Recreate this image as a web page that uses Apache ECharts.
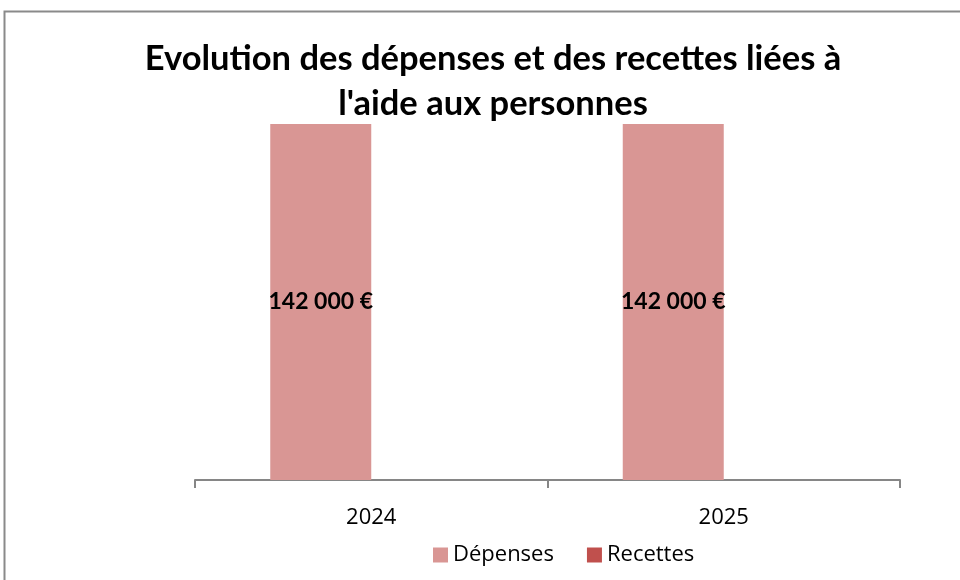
<!DOCTYPE html>
<html><head><meta charset="utf-8">
<script src="https://cdn.jsdelivr.net/npm/echarts@6/dist/echarts.min.js"></script>
<style>html,body{margin:0;padding:0;background:#fff}#c{width:960px;height:580px}</style>
</head><body><div id="c"></div>
<script>
const categories = ['2024', '2025'];
const depenses = [142000, 142000];
const recettes = [0, 0];
const seriesNames = ['Dépenses', 'Recettes'];
const titleText = "Evolution des dépenses et des recettes liées à\nl'aide aux personnes";

const chart = echarts.init(document.getElementById('c'), null, {renderer: 'canvas'});
const fmt = v => String(v).replace(/\B(?=(\d{3})+(?!\d))/g, ' ') + ' €';
chart.setOption({
  animation: false,
  title: {
    text: titleText, left: 488, top: 31, textAlign: 'center',
    textStyle: {fontFamily: 'Lato', fontWeight: 'bold', fontSize: 34.5, color: '#000', lineHeight: 45}
  },
  graphic: [{type: 'rect', shape: {x: 4.5, y: 11.5, width: 1000, height: 700},
    style: {fill: 'none', stroke: '#8a8a8a', lineWidth: 2}, silent: true}],
  legend: {
    data: seriesNames, bottom: 9, left: 428, itemWidth: 15, itemHeight: 15, itemGap: 33,
    icon: 'rect', textStyle: {fontFamily: 'Open Sans', fontSize: 22, color: '#000'}
  },
  grid: {left: 195, right: 60, top: 124, bottom: 100},
  xAxis: {
    type: 'category', data: categories,
    axisLine: {lineStyle: {color: '#868686', width: 2}},
    axisTick: {show: true, length: 8, lineStyle: {color: '#868686', width: 2}},
    axisLabel: {fontFamily: 'Open Sans', fontSize: 22, color: '#000', margin: 27}
  },
  yAxis: {type: 'value', min: 0, max: 142000, show: false, splitLine: {show: false}},
  series: [
    {name: seriesNames[0], type: 'bar', data: depenses, barWidth: 101, barGap: '0%',
     itemStyle: {color: '#D99694'},
     label: {show: true, position: 'inside', formatter: p => fmt(p.value),
       fontFamily: 'Lato', fontWeight: 'bold', fontSize: 23, color: '#000'}},
    {name: seriesNames[1], type: 'bar', data: recettes, barWidth: 101,
     itemStyle: {color: '#C0504D'}}
  ]
});
</script></body></html>
